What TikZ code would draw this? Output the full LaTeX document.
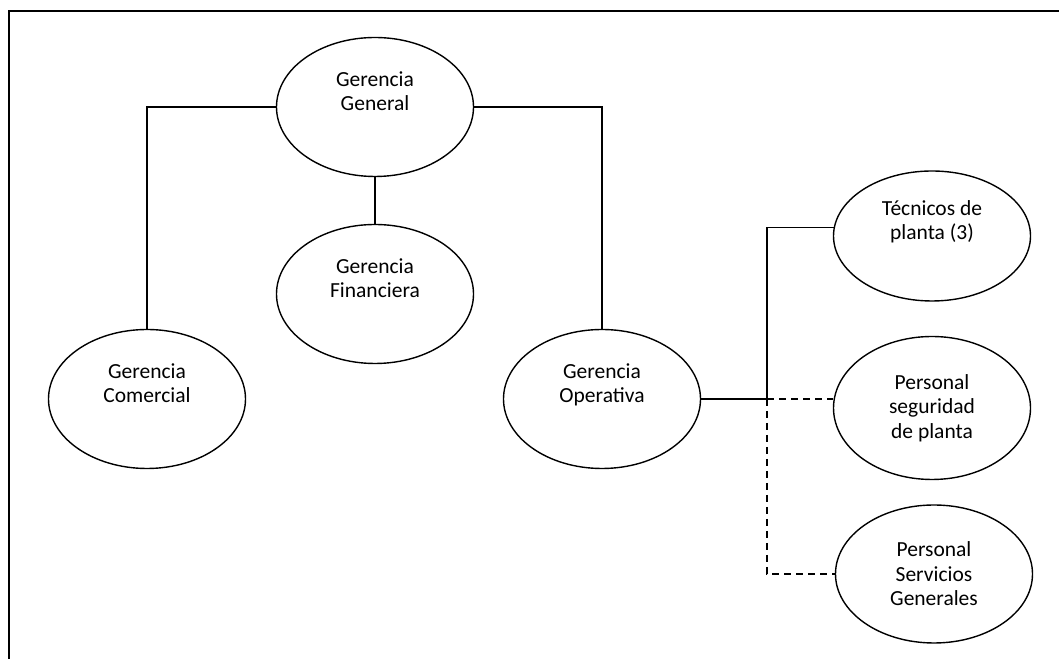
\documentclass[tikz,border=0pt]{standalone}
\usepackage{fontspec}
\setmainfont{Carlito}
\usetikzlibrary{positioning,shapes.geometric}

\begin{document}
\begin{tikzpicture}[x=1bp,y=1bp,line width=1.4bp]
\tikzstyle{unit}=[draw,ellipse,align=center,inner sep=0pt,minimum width=197bp,minimum height=139bp,font=\fontsize{21.5bp}{24.5bp}\selectfont]
\tikzstyle{upper}=[unit,text depth=32bp]
\tikzstyle{link}=[line width=1.5bp]
\tikzstyle{aux}=[link,dash pattern=on 7bp off 5bp]
\useasboundingbox (0,0) rectangle (1059,659);
\draw[line width=2bp] (9,0) -- (9,648) -- (1059,648);
% management units
\node[upper] (gg) at (375,552) {Gerencia\\General};
\node[upper] (gf) at (375,365) {Gerencia\\Financiera};
\node[upper] (gc) at (147,260) {Gerencia\\Comercial};
\node[upper] (go) at (602,260) {Gerencia\\Operativa};
% operative staff
\node[upper,minimum height=130bp] (tp) at (932,423) {Técnicos de\\planta (3)};
\node[unit,minimum height=143bp] (ps) at (932,251) {Personal\\seguridad\\de planta};
\node[unit,minimum height=138bp] (sg) at (934,85) {Personal\\Servicios\\Generales};
% connectors
\draw[link] (gg.west) -| (gc.north);
\draw[link] (gg.east) -| (go.north);
\draw[link] (gg.south) -- (gf.north);
\coordinate[right=65.8bp of go.east] (hub);
\draw[link] (go.east) -- (hub) |- (tp.175);
\draw[aux] (hub) -- (hub -| ps.west);
\draw[aux] (hub) |- (sg.west);
\end{tikzpicture}
\end{document}
